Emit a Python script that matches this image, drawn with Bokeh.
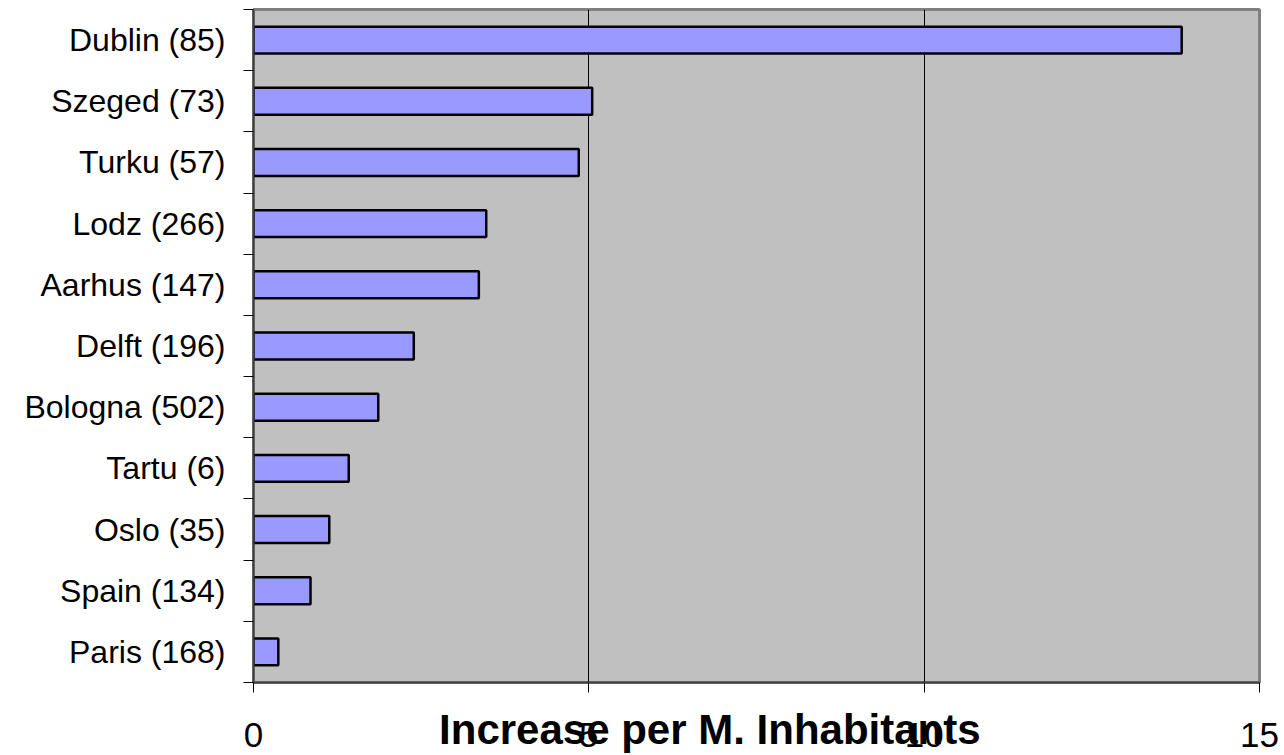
from bokeh.plotting import figure
from bokeh.models import Range1d, FixedTicker
from bokeh.embed import file_html
from bokeh.resources import INLINE

# ---- data ----
cities = ["Dublin (85)", "Szeged (73)", "Turku (57)", "Lodz (266)", "Aarhus (147)",
          "Delft (196)", "Bologna (502)", "Tartu (6)", "Oslo (35)", "Spain (134)",
          "Paris (168)"]
values = [13.84, 5.05, 4.85, 3.47, 3.36, 2.39, 1.86, 1.42, 1.13, 0.85, 0.37]
x_ticks = [0, 5, 10, 15]
x_title = "Increase per M. Inhabitants"

n = len(cities)
centers = list(range(1, n + 1))
bounds = [c - 0.5 for c in centers] + [n + 0.5]

FONT = "Liberation Sans"

p = figure(width=1284, height=755, output_backend="svg", toolbar_location=None,
           x_range=Range1d(0, 15), y_range=Range1d(n + 0.5, 0.5),
           min_border_left=253, min_border_right=25, min_border_top=9,
           min_border_bottom=73)

p.background_fill_color = "#C0C0C0"
p.border_fill_color = "white"
p.outline_line_color = "#808080"
p.outline_line_width = 3

p.hbar(y=centers, left=0, right=values, height=0.44,
       fill_color="#9999FF", line_color="black", line_width=2.5)

# x axis
p.xaxis.ticker = FixedTicker(ticks=x_ticks)
p.xaxis.major_tick_out = 10
p.xaxis.major_tick_in = 0
p.xaxis.minor_tick_out = 0
p.xaxis.minor_tick_in = 0
p.xaxis.major_tick_line_color = "black"
p.xaxis.axis_line_color = "#404040"
p.xaxis.axis_line_width = 2
p.xaxis.major_label_text_font = FONT
p.xaxis.major_label_text_font_size = "35px"
p.xaxis.major_label_text_color = "black"
p.xaxis.major_label_standoff = 30

# axis title, pulled up so that it overlaps the tick labels as in the original;
# trailing no-break spaces move its visible part left of the frame centre
p.xaxis.axis_label = x_title + "\u00a0" * 8
p.xaxis.axis_label_text_font = FONT
p.xaxis.axis_label_text_font_size = "42px"
p.xaxis.axis_label_text_font_style = "bold"
p.xaxis.axis_label_text_color = "black"
p.xaxis.axis_label_standoff = -44

# y axis
p.yaxis.ticker = FixedTicker(ticks=centers, minor_ticks=bounds)
p.yaxis.major_label_overrides = {c: name for c, name in zip(centers, cities)}
p.yaxis.major_tick_out = 0
p.yaxis.major_tick_in = 0
p.yaxis.minor_tick_out = 10
p.yaxis.minor_tick_in = 0
p.yaxis.minor_tick_line_color = "black"
p.yaxis.axis_line_color = "#404040"
p.yaxis.axis_line_width = 2
p.yaxis.major_label_text_font = FONT
p.yaxis.major_label_text_font_size = "32px"
p.yaxis.major_label_text_color = "black"
p.yaxis.major_label_standoff = 18

# grid
p.xgrid.ticker = FixedTicker(ticks=x_ticks)
p.xgrid.grid_line_color = "black"
p.xgrid.grid_line_width = 1
p.ygrid.grid_line_color = None

open("out.html", "w").write(file_html(p, INLINE))
